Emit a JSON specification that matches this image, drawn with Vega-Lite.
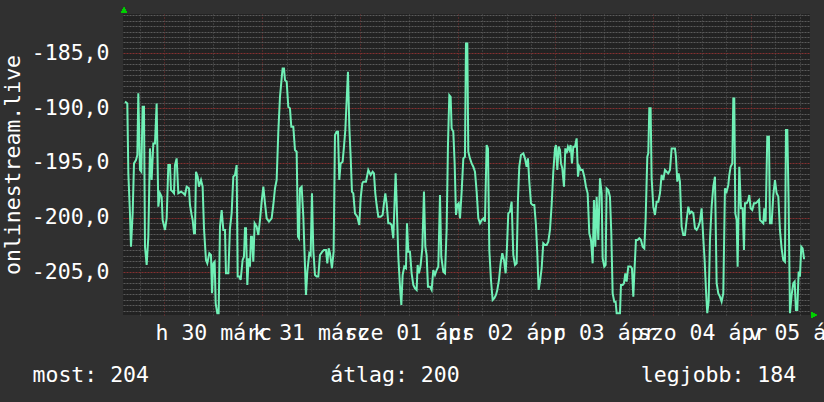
{
  "$schema": "https://vega.github.io/schema/vega-lite/v6.json",
  "width": 687,
  "height": 301,
  "autosize": {"type": "none"},
  "padding": {"left": 123, "top": 14, "right": 14, "bottom": 87},
  "background": "#303030",
  "config": {
    "view": {"fill": "#222222", "stroke": null},
    "font": "DejaVu Sans Mono",
    "axis": {"labelFont": "DejaVu Sans Mono", "titleFont": "DejaVu Sans Mono", "labelColor": "#ffffff", "titleColor": "#ffffff", "labelFontSize": 21.5, "titleFontSize": 21.5, "titleFontWeight": "normal", "ticks": false, "domain": false}
  },
  "data": {"values": [
{"h":-9.67,"v":-189.41},{"h":-9.10,"v":-189.57},{"h":-8.85,"v":-195.96},{"h":-8.45,"v":-199.61},{"h":-8.20,"v":-202.66},{"h":-7.79,"v":-199.61},{"h":-7.46,"v":-195.05},{"h":-6.97,"v":-194.74},{"h":-6.64,"v":-194.28},{"h":-6.40,"v":-188.65},{"h":-5.99,"v":-195.65},{"h":-5.66,"v":-195.81},{"h":-5.34,"v":-189.87},{"h":-5.01,"v":-189.87},{"h":-4.76,"v":-202.66},{"h":-4.35,"v":-204.33},{"h":-3.94,"v":-201.74},{"h":-3.54,"v":-193.68},{"h":-3.13,"v":-196.57},{"h":-2.72,"v":-193.22},{"h":-2.31,"v":-193.22},{"h":-1.90,"v":-189.57},{"h":-1.49,"v":-199.00},{"h":-1.08,"v":-197.78},{"h":-0.67,"v":-198.09},{"h":-0.43,"v":-200.22},{"h":0.15,"v":-201.13},{"h":0.56,"v":-200.07},{"h":0.97,"v":-195.20},{"h":1.37,"v":-195.20},{"h":1.62,"v":-197.48},{"h":2.03,"v":-197.63},{"h":2.36,"v":-197.78},{"h":2.60,"v":-195.20},{"h":3.01,"v":-194.59},{"h":3.42,"v":-197.78},{"h":4.08,"v":-197.63},{"h":4.65,"v":-197.78},{"h":5.06,"v":-197.94},{"h":5.47,"v":-197.18},{"h":6.04,"v":-197.33},{"h":6.28,"v":-198.85},{"h":6.69,"v":-199.76},{"h":6.94,"v":-200.22},{"h":7.27,"v":-201.44},{"h":7.51,"v":-201.44},{"h":7.76,"v":-195.81},{"h":8.17,"v":-196.26},{"h":8.49,"v":-197.18},{"h":8.99,"v":-196.57},{"h":9.39,"v":-197.18},{"h":9.72,"v":-200.98},{"h":10.21,"v":-203.87},{"h":10.54,"v":-204.18},{"h":11.03,"v":-203.26},{"h":11.44,"v":-203.42},{"h":11.69,"v":-206.92},{"h":12.01,"v":-204.18},{"h":12.34,"v":-204.03},{"h":12.59,"v":-207.83},{"h":12.99,"v":-208.74},{"h":13.32,"v":-208.74},{"h":13.65,"v":-200.83},{"h":14.06,"v":-199.31},{"h":14.47,"v":-201.13},{"h":14.88,"v":-201.13},{"h":15.12,"v":-205.09},{"h":15.70,"v":-205.09},{"h":16.10,"v":-200.98},{"h":16.51,"v":-199.61},{"h":16.92,"v":-196.26},{"h":17.33,"v":-196.11},{"h":17.74,"v":-195.20},{"h":17.99,"v":-205.39},{"h":18.40,"v":-205.39},{"h":18.72,"v":-205.70},{"h":19.21,"v":-203.87},{"h":19.54,"v":-203.57},{"h":19.79,"v":-200.98},{"h":20.03,"v":-200.98},{"h":20.36,"v":-206.16},{"h":20.69,"v":-203.72},{"h":21.01,"v":-204.48},{"h":21.26,"v":-201.74},{"h":21.50,"v":-201.74},{"h":21.83,"v":-204.03},{"h":22.16,"v":-200.52},{"h":22.65,"v":-200.83},{"h":23.06,"v":-201.59},{"h":23.47,"v":-200.22},{"h":23.88,"v":-198.55},{"h":24.29,"v":-197.18},{"h":24.70,"v":-198.70},{"h":25.11,"v":-200.07},{"h":25.68,"v":-200.37},{"h":26.33,"v":-200.07},{"h":26.74,"v":-198.85},{"h":27.15,"v":-197.33},{"h":27.56,"v":-196.57},{"h":27.97,"v":-192.15},{"h":28.38,"v":-188.96},{"h":28.79,"v":-187.28},{"h":29.03,"v":-186.37},{"h":29.36,"v":-186.37},{"h":29.61,"v":-187.44},{"h":30.02,"v":-187.59},{"h":30.42,"v":-189.87},{"h":30.83,"v":-190.02},{"h":31.16,"v":-191.70},{"h":31.65,"v":-191.70},{"h":32.06,"v":-193.83},{"h":32.47,"v":-193.98},{"h":32.80,"v":-201.74},{"h":33.04,"v":-201.89},{"h":33.29,"v":-197.33},{"h":33.70,"v":-197.18},{"h":34.11,"v":-199.92},{"h":34.52,"v":-204.48},{"h":34.76,"v":-207.07},{"h":35.09,"v":-204.94},{"h":35.58,"v":-203.26},{"h":35.91,"v":-203.42},{"h":36.23,"v":-197.78},{"h":36.56,"v":-202.96},{"h":36.97,"v":-205.24},{"h":37.38,"v":-205.39},{"h":37.79,"v":-205.39},{"h":38.20,"v":-203.42},{"h":38.77,"v":-203.11},{"h":39.18,"v":-202.96},{"h":39.67,"v":-202.96},{"h":40.00,"v":-204.18},{"h":40.33,"v":-202.81},{"h":40.65,"v":-203.26},{"h":41.14,"v":-204.63},{"h":41.55,"v":-203.11},{"h":41.88,"v":-192.46},{"h":42.29,"v":-192.15},{"h":42.62,"v":-192.15},{"h":42.94,"v":-196.57},{"h":43.27,"v":-195.05},{"h":43.76,"v":-194.89},{"h":44.09,"v":-193.52},{"h":44.42,"v":-192.00},{"h":44.75,"v":-189.26},{"h":45.07,"v":-186.67},{"h":45.40,"v":-191.70},{"h":45.73,"v":-194.44},{"h":46.05,"v":-197.63},{"h":46.38,"v":-197.78},{"h":46.79,"v":-199.61},{"h":47.36,"v":-199.92},{"h":47.85,"v":-200.68},{"h":48.18,"v":-198.24},{"h":48.59,"v":-196.87},{"h":48.84,"v":-196.72},{"h":49.49,"v":-196.72},{"h":50.06,"v":-195.65},{"h":50.64,"v":-196.11},{"h":51.13,"v":-195.81},{"h":51.45,"v":-195.96},{"h":51.78,"v":-197.78},{"h":52.11,"v":-198.85},{"h":52.52,"v":-199.92},{"h":53.09,"v":-199.92},{"h":53.58,"v":-199.76},{"h":53.91,"v":-198.70},{"h":54.24,"v":-197.78},{"h":54.56,"v":-198.70},{"h":54.97,"v":-200.52},{"h":55.38,"v":-200.52},{"h":55.79,"v":-200.68},{"h":56.20,"v":-201.89},{"h":56.53,"v":-198.39},{"h":56.77,"v":-195.96},{"h":57.02,"v":-198.55},{"h":57.43,"v":-203.57},{"h":57.84,"v":-206.31},{"h":58.17,"v":-207.98},{"h":58.49,"v":-205.24},{"h":58.90,"v":-204.48},{"h":59.31,"v":-204.63},{"h":59.56,"v":-200.52},{"h":59.88,"v":-203.11},{"h":60.29,"v":-203.11},{"h":60.70,"v":-205.09},{"h":61.11,"v":-206.16},{"h":61.52,"v":-206.46},{"h":61.93,"v":-206.61},{"h":62.17,"v":-204.33},{"h":62.50,"v":-205.09},{"h":62.91,"v":-204.33},{"h":63.32,"v":-202.81},{"h":63.73,"v":-197.63},{"h":64.06,"v":-202.66},{"h":64.38,"v":-203.42},{"h":64.71,"v":-206.31},{"h":65.20,"v":-206.31},{"h":65.61,"v":-206.61},{"h":66.02,"v":-204.79},{"h":66.43,"v":-205.24},{"h":66.84,"v":-204.79},{"h":67.25,"v":-204.48},{"h":67.66,"v":-197.94},{"h":67.98,"v":-203.57},{"h":68.48,"v":-204.94},{"h":68.89,"v":-205.09},{"h":69.29,"v":-201.13},{"h":69.62,"v":-193.37},{"h":69.95,"v":-188.81},{"h":70.28,"v":-188.96},{"h":70.52,"v":-191.85},{"h":70.93,"v":-192.15},{"h":71.26,"v":-195.05},{"h":71.59,"v":-199.76},{"h":71.91,"v":-198.85},{"h":72.24,"v":-198.70},{"h":72.57,"v":-200.07},{"h":72.98,"v":-197.63},{"h":73.39,"v":-194.59},{"h":73.79,"v":-194.44},{"h":74.04,"v":-184.09},{"h":74.37,"v":-184.09},{"h":74.61,"v":-193.98},{"h":75.02,"v":-194.59},{"h":75.43,"v":-195.05},{"h":75.84,"v":-195.35},{"h":76.25,"v":-195.81},{"h":76.66,"v":-197.63},{"h":77.07,"v":-200.07},{"h":77.48,"v":-200.52},{"h":77.89,"v":-200.22},{"h":78.30,"v":-200.07},{"h":78.70,"v":-200.37},{"h":79.11,"v":-193.37},{"h":79.44,"v":-193.68},{"h":79.77,"v":-202.96},{"h":80.18,"v":-205.70},{"h":80.59,"v":-207.53},{"h":81.00,"v":-207.37},{"h":81.40,"v":-207.07},{"h":81.73,"v":-206.61},{"h":82.14,"v":-205.70},{"h":82.55,"v":-204.18},{"h":82.96,"v":-203.26},{"h":83.37,"v":-203.87},{"h":83.78,"v":-205.09},{"h":84.11,"v":-202.66},{"h":84.43,"v":-199.61},{"h":84.84,"v":-199.46},{"h":85.25,"v":-198.55},{"h":85.66,"v":-203.42},{"h":86.07,"v":-204.33},{"h":86.48,"v":-204.18},{"h":86.81,"v":-198.24},{"h":87.13,"v":-195.35},{"h":87.54,"v":-194.28},{"h":88.12,"v":-194.13},{"h":88.52,"v":-194.59},{"h":88.93,"v":-195.35},{"h":89.26,"v":-194.59},{"h":89.59,"v":-196.72},{"h":90.00,"v":-198.70},{"h":90.41,"v":-198.85},{"h":90.82,"v":-198.85},{"h":91.22,"v":-200.68},{"h":91.55,"v":-203.26},{"h":91.88,"v":-206.61},{"h":92.21,"v":-205.85},{"h":92.62,"v":-204.63},{"h":93.02,"v":-202.35},{"h":93.43,"v":-202.50},{"h":93.84,"v":-202.50},{"h":94.25,"v":-202.20},{"h":94.66,"v":-201.13},{"h":95.07,"v":-198.85},{"h":95.48,"v":-195.81},{"h":95.89,"v":-193.68},{"h":96.13,"v":-193.37},{"h":96.46,"v":-195.65},{"h":96.79,"v":-193.52},{"h":97.12,"v":-193.83},{"h":97.36,"v":-195.05},{"h":97.69,"v":-195.50},{"h":98.10,"v":-197.18},{"h":98.43,"v":-193.68},{"h":98.75,"v":-194.13},{"h":99.08,"v":-193.52},{"h":99.41,"v":-193.83},{"h":99.74,"v":-193.37},{"h":100.06,"v":-195.05},{"h":100.39,"v":-193.52},{"h":100.80,"v":-193.52},{"h":101.21,"v":-192.76},{"h":101.54,"v":-196.26},{"h":101.86,"v":-195.35},{"h":102.27,"v":-195.65},{"h":102.68,"v":-195.65},{"h":103.09,"v":-196.26},{"h":103.50,"v":-197.18},{"h":103.91,"v":-197.78},{"h":104.32,"v":-201.44},{"h":104.73,"v":-202.05},{"h":105.14,"v":-204.18},{"h":105.46,"v":-198.39},{"h":105.79,"v":-202.66},{"h":106.12,"v":-198.09},{"h":106.53,"v":-202.05},{"h":106.94,"v":-196.42},{"h":107.35,"v":-197.78},{"h":107.59,"v":-203.72},{"h":108.00,"v":-204.48},{"h":108.33,"v":-204.33},{"h":108.57,"v":-197.33},{"h":108.98,"v":-197.48},{"h":109.39,"v":-198.09},{"h":109.72,"v":-201.44},{"h":110.05,"v":-206.92},{"h":110.45,"v":-207.68},{"h":110.78,"v":-207.68},{"h":111.03,"v":-208.74},{"h":111.85,"v":-208.74},{"h":112.09,"v":-206.16},{"h":112.50,"v":-206.16},{"h":112.83,"v":-206.00},{"h":113.16,"v":-205.09},{"h":113.48,"v":-205.85},{"h":113.89,"v":-204.48},{"h":114.46,"v":-204.48},{"h":114.79,"v":-204.63},{"h":115.12,"v":-207.22},{"h":115.45,"v":-204.48},{"h":115.77,"v":-202.05},{"h":116.18,"v":-202.05},{"h":116.59,"v":-201.89},{"h":117.00,"v":-202.05},{"h":117.41,"v":-202.66},{"h":117.82,"v":-202.81},{"h":118.15,"v":-200.07},{"h":118.56,"v":-194.44},{"h":118.80,"v":-194.13},{"h":119.05,"v":-190.02},{"h":119.37,"v":-190.02},{"h":119.62,"v":-196.42},{"h":120.03,"v":-199.00},{"h":120.44,"v":-199.76},{"h":120.85,"v":-198.55},{"h":121.26,"v":-198.55},{"h":121.67,"v":-197.78},{"h":122.07,"v":-196.11},{"h":122.48,"v":-196.57},{"h":122.89,"v":-195.65},{"h":123.30,"v":-195.81},{"h":123.71,"v":-195.96},{"h":124.12,"v":-195.65},{"h":124.53,"v":-193.68},{"h":125.35,"v":-193.68},{"h":125.59,"v":-194.44},{"h":125.92,"v":-196.72},{"h":126.25,"v":-195.96},{"h":126.57,"v":-196.72},{"h":126.98,"v":-200.83},{"h":127.39,"v":-201.59},{"h":127.80,"v":-201.59},{"h":128.21,"v":-200.22},{"h":128.62,"v":-199.00},{"h":129.03,"v":-199.61},{"h":129.44,"v":-199.46},{"h":129.85,"v":-199.61},{"h":130.26,"v":-200.98},{"h":130.67,"v":-201.13},{"h":131.08,"v":-200.83},{"h":131.48,"v":-200.37},{"h":131.89,"v":-199.15},{"h":132.30,"v":-201.89},{"h":132.63,"v":-203.87},{"h":132.96,"v":-206.61},{"h":133.28,"v":-208.74},{"h":133.61,"v":-207.68},{"h":133.94,"v":-202.05},{"h":134.35,"v":-199.00},{"h":134.76,"v":-197.18},{"h":135.17,"v":-196.26},{"h":135.58,"v":-206.00},{"h":135.99,"v":-206.92},{"h":136.39,"v":-207.22},{"h":136.80,"v":-207.68},{"h":137.21,"v":-206.92},{"h":137.62,"v":-197.33},{"h":138.03,"v":-197.63},{"h":138.44,"v":-197.02},{"h":138.69,"v":-196.11},{"h":139.01,"v":-195.35},{"h":139.42,"v":-195.05},{"h":139.67,"v":-189.11},{"h":139.91,"v":-189.11},{"h":140.16,"v":-199.61},{"h":140.49,"v":-200.22},{"h":140.73,"v":-204.48},{"h":141.14,"v":-195.35},{"h":141.55,"v":-199.15},{"h":141.96,"v":-199.15},{"h":142.29,"v":-202.96},{"h":142.53,"v":-198.70},{"h":142.94,"v":-198.70},{"h":143.35,"v":-198.39},{"h":143.60,"v":-197.94},{"h":143.92,"v":-199.15},{"h":144.33,"v":-199.31},{"h":144.74,"v":-198.70},{"h":145.15,"v":-198.70},{"h":145.56,"v":-198.55},{"h":145.97,"v":-198.39},{"h":146.22,"v":-200.22},{"h":146.62,"v":-200.37},{"h":147.03,"v":-200.52},{"h":147.28,"v":-199.15},{"h":147.61,"v":-200.37},{"h":148.01,"v":-192.61},{"h":148.42,"v":-192.61},{"h":148.67,"v":-200.52},{"h":149.08,"v":-200.52},{"h":149.49,"v":-197.94},{"h":149.90,"v":-196.57},{"h":150.31,"v":-197.78},{"h":150.72,"v":-198.09},{"h":151.12,"v":-201.13},{"h":151.53,"v":-202.81},{"h":151.94,"v":-203.87},{"h":152.35,"v":-204.03},{"h":152.60,"v":-192.00},{"h":152.93,"v":-192.00},{"h":153.25,"v":-198.55},{"h":153.58,"v":-208.74},{"h":153.99,"v":-207.07},{"h":154.40,"v":-206.00},{"h":154.73,"v":-205.85},{"h":155.05,"v":-208.44},{"h":155.38,"v":-208.44},{"h":155.71,"v":-204.94},{"h":156.03,"v":-205.39},{"h":156.36,"v":-202.66},{"h":156.69,"v":-202.81},{"h":157.02,"v":-203.72},{"h":157.26,"v":-203.72}
  ]},
  "layer": [
    {
      "mark": {"type": "line", "opacity": 0},
      "encoding": {
        "x": {"field": "h", "type": "quantitative", "scale": {"domain": [-10.16, 158.5], "nice": false, "zero": false},
          "axis": {"orient": "bottom", "values": [-6, 6, 12, 18, 30, 36, 42, 54, 60, 66, 78, 84, 90, 102, 108, 114, 126, 132, 138, 150, 156], "grid": true, "gridColor": "#5a5a5a", "gridDash": [1, 2], "labels": false, "title": null}},
        "y": {"field": "v", "type": "quantitative", "scale": {"domain": [-208.9, -181.4], "nice": false, "zero": false},
          "axis": {"orient": "left", "values": [-208.5, -208, -207.5, -207, -206.5, -206, -205.5, -204.5, -204, -203.5, -203, -202.5, -202, -201.5, -201, -200.5, -199.5, -199, -198.5, -198, -197.5, -197, -196.5, -196, -195.5, -194.5, -194, -193.5, -193, -192.5, -192, -191.5, -191, -190.5, -189.5, -189, -188.5, -188, -187.5, -187, -186.5, -186, -185.5, -184.5, -184, -183.5, -183, -182.5, -182, -181.5], "grid": true, "gridColor": "#5a5a5a", "gridDash": [2, 1], "labels": false, "title": null}}
      }
    },
    {
      "mark": {"type": "line", "opacity": 0},
      "encoding": {
        "x": {"field": "h", "type": "quantitative",
          "axis": {"orient": "bottom", "values": [0, 24, 48, 72, 96, 120, 144], "grid": true, "gridColor": "#853030", "gridDash": [1, 2], "labels": false, "title": null}},
        "y": {"field": "v", "type": "quantitative",
          "axis": {"orient": "left", "values": [-205, -200, -195, -190, -185], "grid": true, "gridColor": "#853030", "gridDash": [2, 1], "labelPadding": 14,
            "labelExpr": "(datum.value < 0 ? '-' : '') + replace(format(abs(datum.value), '.1f'), '.', ',')",
            "title": "onlinestream.live", "titleX": -104, "titleBaseline": "alphabetic", "titleAngle": -90}}
      }
    },
    {
      "mark": {"type": "line", "color": "#70f0b6", "strokeWidth": 2},
      "encoding": {
        "x": {"field": "h", "type": "quantitative",
          "axis": {"orient": "bottom", "values": [12, 36, 60, 84, 108, 132, 156], "grid": false, "labelOverlap": false, "labelBound": false, "labelFlush": false,
            "labelPadding": 24, "labelBaseline": "alphabetic",
            "labelExpr": "['h 30 márc', 'k 31 márc', 'sze 01 ápr', 'cs 02 ápr', 'p 03 ápr', 'szo 04 ápr', 'v 05 ápr'][floor(datum.value / 24)]",
            "title": "most: 204\u00a0\u00a0\u00a0\u00a0\u00a0\u00a0\u00a0\u00a0\u00a0\u00a0\u00a0\u00a0\u00a0\u00a0átlag: 200\u00a0\u00a0\u00a0\u00a0\u00a0\u00a0\u00a0\u00a0\u00a0\u00a0\u00a0\u00a0\u00a0\u00a0legjobb: 184",
            "titleX": -91, "titleY": 66, "titleAlign": "left", "titleBaseline": "alphabetic", "titleAnchor": "start"}},
        "y": {"field": "v", "type": "quantitative", "axis": null}
      }
    },
    {
      "mark": {"type": "point", "shape": "triangle-up", "filled": true, "color": "#00d000", "opacity": 1, "size": 30, "yOffset": -4, "clip": false},
      "encoding": {"x": {"datum": -9.9, "type": "quantitative", "axis": null}, "y": {"datum": -181.4, "type": "quantitative", "axis": null}}
    },
    {
      "mark": {"type": "point", "shape": "triangle-right", "filled": true, "color": "#00d000", "opacity": 1, "size": 30, "xOffset": 4, "clip": false},
      "encoding": {"x": {"datum": 158.5, "type": "quantitative", "axis": null}, "y": {"datum": -208.9, "type": "quantitative", "axis": null}}
    }
  ],
  "resolve": {"axis": {"x": "independent", "y": "independent"}}
}
